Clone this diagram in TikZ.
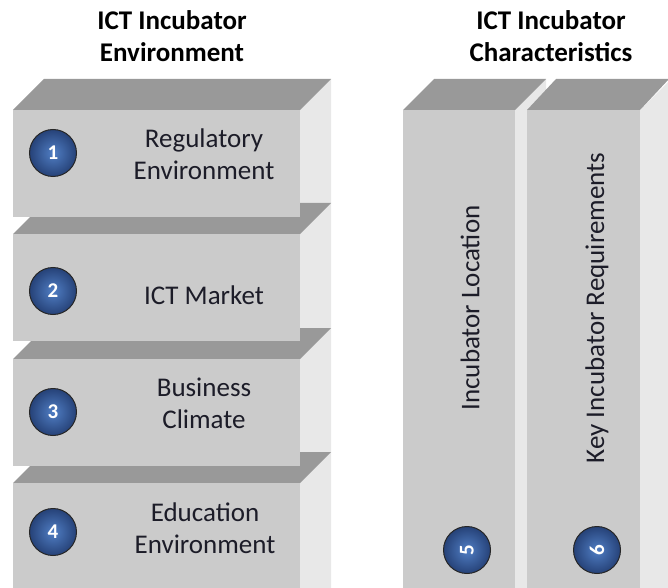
\documentclass[tikz,border=0pt]{standalone}
\usepackage{fontspec}
\setmainfont{Carlito}
\definecolor{Face}{RGB}{203,203,203}
\definecolor{Roof}{RGB}{153,153,153}
\definecolor{Wall}{RGB}{232,232,232}
\definecolor{Ink}{RGB}{28,28,40}
\definecolor{BallIn}{RGB}{80,126,196}
\definecolor{BallOut}{RGB}{38,66,120}

\begin{document}
\begin{tikzpicture}[x=1pt,y=1pt,
 f/.style={fill=Face,inner sep=0pt,anchor=north west,minimum width=287pt,minimum height=107pt},
 roof/.style={fill=Roof},
 wall/.style={fill=Wall},
 t/.style={text=Ink,align=center,font=\fontsize{27}{32}\selectfont},
 h/.style={align=center,font=\fontsize{27}{32}\selectfont\bfseries},
 ball/.style={circle,minimum size=47pt,inner sep=0pt,draw=black!85,line width=1pt,
  shading=radial,inner color=BallIn,outer color=BallOut,text=white,font=\fontsize{21}{21}\selectfont\bfseries}]
\useasboundingbox (0,0) rectangle (668,587);
\clip (0,0) rectangle (668,587);

% headings
\node[h] (hl) at (172,551) {ICT Incubator\\Environment};
\node[h] (hr) at (551,551) {ICT Incubator\\Characteristics};

% left stack, drawn bottom up so each front hides the roof below it
\fill[wall] (300,477) -- ++(31,31) -- (331,-10) -- (300,-10) -- cycle;
\foreach \n/\y in {4/104,3/228,2/353,1/477}{
 \fill[roof] (13,\y) -- ++(31,31) -- ++(287,0) -- (300,\y) -- cycle;
 \node[f] (env\n) at (13,\y) {};
}

% two tall columns on the right
\fill[wall] (515,477) -- ++(31,31) -- (546,-10) -- (515,-10) -- cycle;
\fill[roof] (403,477) -- ++(31,31) -- ++(112,0) -- (515,477) -- cycle;
\node[f,minimum width=112pt,minimum height=490pt] (loc) at (403,477) {};
\fill[wall] (640,477) -- ++(31,31) -- (671,-10) -- (640,-10) -- cycle;
\fill[roof] (527,477) -- ++(29,31) -- ++(113,0) -- (640,477) -- cycle;
\node[f,minimum width=113pt,minimum height=490pt] (req) at (527,477) {};

% numbers and labels
\node[ball] (b1) at (53,434) {1};
\node[ball] (b2) at (53,296) {2};
\node[ball] (b3) at (53,175) {3};
\node[ball] (b4) at (53,55) {4};
\node[t] (t1) at (204,433) {Regulatory\\Environment};
\node[t] (t2) at (204,292) {ICT Market};
\node[t] (t3) at (204,184) {Business\\Climate};
\node[t] (t4) at (205,59) {Education\\Environment};

\node[t,rotate=90] (t5) at (470,279) {Incubator Location};
\node[t,rotate=90] (t6) at (597,279) {Key Incubator Requirements};
\node[ball,rotate=90] (b5) at (467,37) {5};
\node[ball,rotate=90] (b6) at (597,37) {6};
\end{tikzpicture}
\end{document}
